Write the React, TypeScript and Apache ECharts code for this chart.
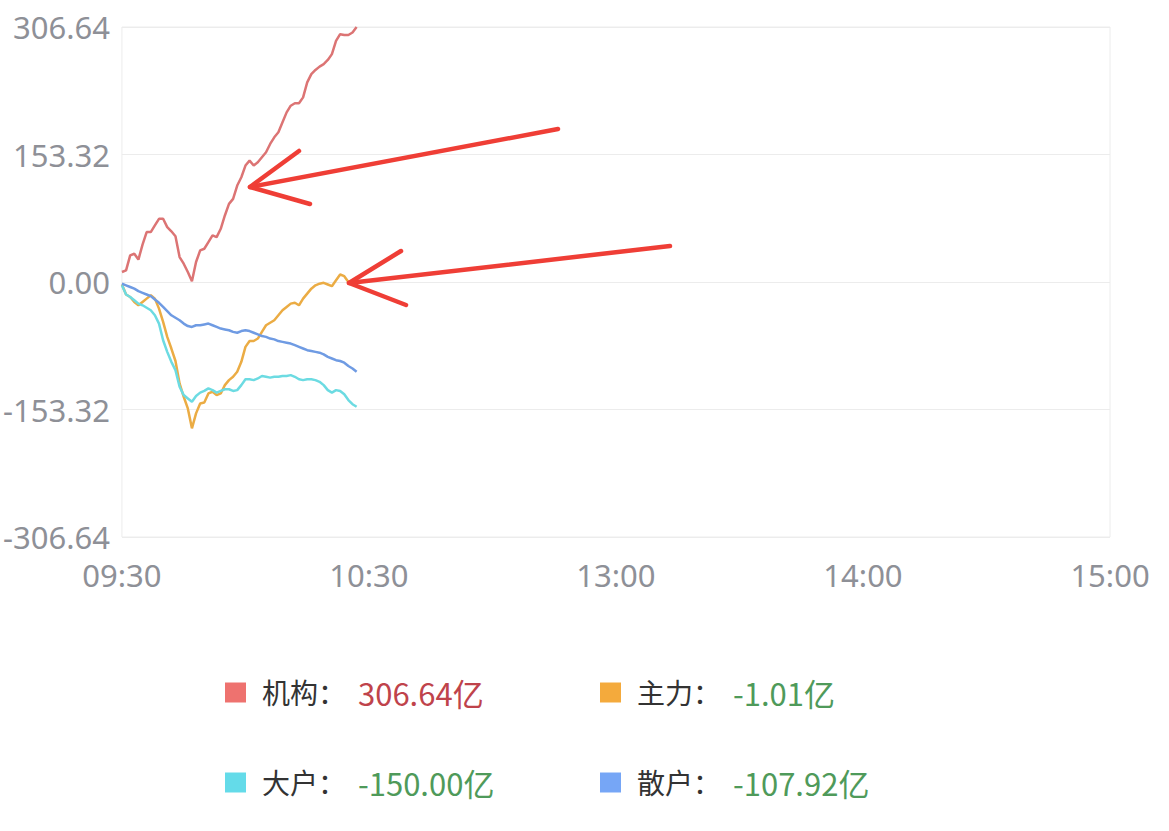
import React, { useEffect, useRef } from "react";
import * as echarts from "echarts";

// Trading minutes: 09:30–11:30 and 13:01–15:00 (241 points)
const timeCategories: string[] = [];
for (let i = 0; i <= 240; i++) {
  let h: number, m: number;
  if (i <= 120) {
    const t = 9 * 60 + 30 + i;
    h = Math.floor(t / 60);
    m = t % 60;
  } else {
    const t = 13 * 60 + (i - 120);
    h = Math.floor(t / 60);
    m = t % 60;
  }
  timeCategories.push(`${String(h).padStart(2, "0")}:${String(m).padStart(2, "0")}`);
}
const xTickLabels = ["09:30", "10:30", "13:00", "14:00", "15:00"];

const seriesNames = ["机构", "主力", "大户", "散户"];
const finalValues = [306.64, -1.01, -150.0, -107.92];

const jigou = [
  12, 14, 32, 34, 27, 45, 60, 60, 68, 76, 76, 66, 61, 55, 30, 22, 12, 1, 24, 38,
  40, 48, 56, 54, 64, 80, 94, 100, 116, 126, 140, 146, 140, 144, 150, 156, 166, 174, 180, 192,
  204, 212, 215, 215, 222, 240, 250, 255, 259, 262, 267, 274, 290, 298, 297, 297, 300, 306.64,
];
const zhuli = [
  -3, -15, -18, -24, -28, -24, -20, -16, -20, -32, -48, -66, -80, -95, -122, -138, -152, -176, -158, -146,
  -145, -134, -132, -136, -134, -124, -118, -114, -108, -96, -78, -71, -71, -68, -60, -52, -49, -46, -40, -34,
  -30, -26, -25, -28, -20, -14, -8, -4, -2, -1, -3, -5, 2, 9, 7, 0, -1, -1.01,
];
const dahu = [
  -4, -15, -18, -22, -26, -28, -31, -34, -40, -50, -70, -84, -96, -106, -126, -136, -140, -144, -137, -133,
  -131, -128, -130, -133, -131, -129, -129, -131, -130, -124, -117, -117, -118, -116, -113, -114, -115, -114, -114, -113,
  -113, -112, -114, -117, -118, -117, -117, -118, -120, -124, -130, -133, -130, -131, -135, -142, -147, -150,
];
const sanhu = [
  -2, -4, -6, -8, -11, -13, -15, -17, -21, -25, -30, -35, -40, -43, -46, -50, -53, -54, -52, -52,
  -51, -50, -52, -54, -56, -57, -58, -60, -61, -59, -58, -59, -61, -63, -65, -66, -68, -69, -71, -72,
  -73, -74, -76, -78, -80, -82, -83, -84, -85, -87, -90, -92, -94, -95, -97, -101, -104, -107.92,
];
const seriesData = [jigou, zhuli, dahu, sanhu];

const yTickValues = [-306.64, -153.32, 0, 153.32, 306.64];

const lineColors = ["#dc7474", "#ebac44", "#6cdbe2", "#6f9be3"];
const legendColors = ["#ee726f", "#f4aa3c", "#64dbe9", "#76a6f6"];

export default function App() {
  const ref = useRef<HTMLDivElement>(null);

  useEffect(() => {
    if (!ref.current) return;
    const chart = echarts.init(ref.current, null, { renderer: "svg" });

    const legendPos = [
      { left: 225, top: 677 },
      { left: 600, top: 677 },
      { left: 225, top: 767 },
      { left: 600, top: 767 },
    ];

    const legends = seriesNames.map((name, i) => ({
      data: [{ name, itemStyle: { color: legendColors[i] } }],
      left: legendPos[i].left,
      top: legendPos[i].top,
      padding: 0,
      icon: "rect",
      itemWidth: 21,
      itemHeight: 20,
      itemGap: 16,
      selectedMode: false,
      formatter: (n: string) => {
        const v = finalValues[seriesNames.indexOf(n)];
        const style = v >= 0 ? "up" : "down";
        return `{n|${n}：}{${style}|${v.toFixed(2)}亿}`;
      },
      textStyle: {
        rich: {
          n: { color: "#333333", fontSize: 28, lineHeight: 32, fontFamily: "Noto Sans CJK SC", padding: [0, 12, 0, 11] },
          up: { color: "#bf434b", fontSize: 31, lineHeight: 32, fontFamily: "Noto Sans CJK SC" },
          down: { color: "#4f9a5a", fontSize: 31, lineHeight: 32, fontFamily: "Noto Sans CJK SC" },
        },
      },
    }));

    const arrowStyle = { stroke: "#ef3e36", lineWidth: 4.5, lineCap: "round", lineJoin: "round", fill: null };

    chart.setOption({
      animation: false,
      backgroundColor: "#ffffff",
      grid: {
        left: 120,
        top: 27,
        right: 59,
        bottom: 294,
        show: true,
        borderColor: "#ececec",
        borderWidth: 1,
      },
      xAxis: {
        type: "category",
        data: timeCategories,
        boundaryGap: false,
        axisLine: { show: false },
        axisTick: { show: false },
        splitLine: { show: false },
        axisLabel: {
          interval: (index: number) => index % 60 === 0,
          formatter: (_v: string, idx: number) => xTickLabels[Math.round(idx / 60)],
          color: "#8e9097",
          fontSize: 31,
          fontFamily: "Noto Sans",
          margin: 22,
        },
      },
      yAxis: {
        type: "value",
        min: yTickValues[0],
        max: yTickValues[4],
        interval: 153.32,
        axisLine: { show: false },
        axisTick: { show: false },
        splitLine: { show: true, lineStyle: { color: "#ececec", width: 1 } },
        axisLabel: {
          formatter: (v: number) => v.toFixed(2),
          color: "#8e9097",
          fontSize: 31,
          fontFamily: "Noto Sans",
          margin: 12,
        },
      },
      legend: legends,
      series: seriesNames.map((name, i) => ({
        name,
        type: "line",
        data: seriesData[i],
        showSymbol: false,
        symbol: "none",
        smooth: false,
        itemStyle: { color: lineColors[i] },
        lineStyle: { color: lineColors[i], width: 2.5 },
      })),
      graphic: [
        { type: "line", shape: { x1: 558, y1: 129, x2: 250, y2: 187 }, style: arrowStyle, z: 100 },
        { type: "polyline", shape: { points: [[299, 151], [250, 187], [310, 204]] }, style: arrowStyle, z: 100 },
        { type: "line", shape: { x1: 670, y1: 246, x2: 349, y2: 283 }, style: arrowStyle, z: 100 },
        { type: "polyline", shape: { points: [[401, 251], [349, 283], [406, 305]] }, style: arrowStyle, z: 100 },
      ],
    });

    return () => chart.dispose();
  }, []);

  return (
    <div
      ref={ref}
      style={{ position: "fixed", left: 0, top: 0, width: 1169, height: 831, background: "#fff" }}
    />
  );
}
